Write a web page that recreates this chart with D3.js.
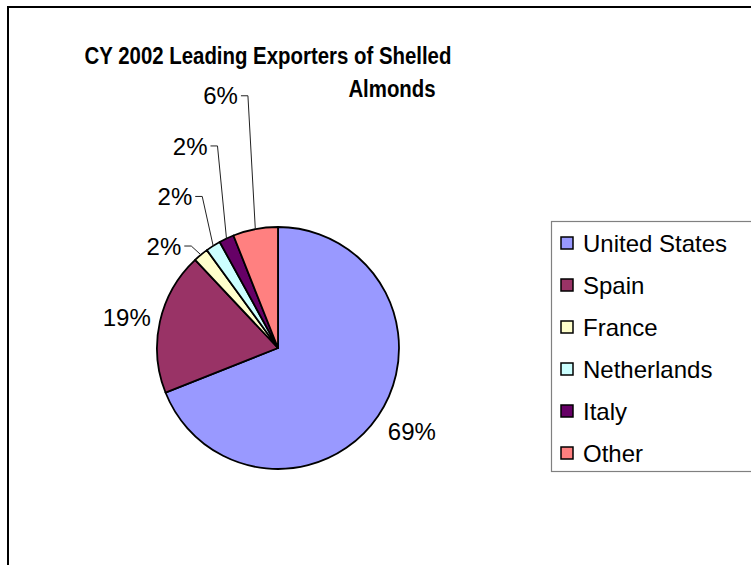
<!DOCTYPE html>
<html>
<head>
<meta charset="utf-8">
<script src="https://cdn.jsdelivr.net/npm/d3@7"></script>
<style>
  html, body { margin: 0; padding: 0; background: #fff; overflow: hidden; }
  svg { display: block; overflow: hidden; font-family: Arial, "Liberation Sans", sans-serif; }
</style>
</head>
<body>
<svg id="chart" width="751" height="565"></svg>
<script>
// Shares of shelled almond exports, calendar year 2002 (percent)
const countries = ["United States", "Spain", "France", "Netherlands", "Italy", "Other"];
const shares = [69, 19, 2, 2, 2, 6];
const colors = ["#9999FF", "#993366", "#FFFFCC", "#CCFFFF", "#660066", "#FF8080"];
const titleLines = ["CY 2002 Leading Exporters of Shelled", "Almonds"];

// Label offsets from their default spot; the thin slices are pulled out with leaders
const labelNudge = [[4, -5], [2, 4], [-14, 19], [-19, -19], [-21, -60], [-28, -98]];

const svg = d3.select("#chart");
const W = 751, H = 565;

// chart area frame (runs off the right and bottom edges)
svg.append("rect")
  .attr("x", 8).attr("y", 7)
  .attr("width", W + 200).attr("height", H + 200)
  .attr("fill", "#fff")
  .attr("stroke", "#000").attr("stroke-width", 2);

// title, set in a slightly condensed bold face
const titleX = [268, 392];
const title = svg.append("g");
titleLines.forEach((t, i) => {
  title.append("text")
    .attr("transform", `translate(${titleX[i]},${64 + i * 33}) scale(0.85,1)`)
    .attr("text-anchor", "middle")
    .attr("font-weight", "bold")
    .attr("font-size", 24)
    .attr("fill", "#000")
    .text(t);
});

// pie
const cx = 278, cy = 348, R = 121;
const g = svg.append("g").attr("transform", `translate(${cx},${cy})`);

const pie = d3.pie().sort(null).value(d => d).startAngle(0).endAngle(2 * Math.PI);
const arcs = pie(shares);
const arc = d3.arc().innerRadius(0).outerRadius(R);

g.selectAll("path.slice")
  .data(arcs)
  .join("path")
  .attr("class", "slice")
  .attr("d", arc)
  .attr("fill", (d, i) => colors[i])
  .attr("stroke", "#000")
  .attr("stroke-width", 1.8)
  .attr("stroke-linejoin", "round");

// percent labels
const labelR = 157;
const midAngle = d => (d.startAngle + d.endAngle) / 2;
const labels = g.selectAll("g.lab")
  .data(arcs)
  .join("g")
  .attr("class", "lab");

labels.each(function (d, i) {
  const a = midAngle(d);
  const lx = Math.sin(a) * labelR + labelNudge[i][0];
  const ly = -Math.cos(a) * labelR + labelNudge[i][1];
  const t = d3.select(this).append("text")
    .attr("x", lx)
    .attr("y", ly)
    .attr("dy", "0.36em")
    .attr("text-anchor", "middle")
    .attr("font-size", 24)
    .attr("fill", "#000")
    .text(d.data + "%");

  // leader line for the small slices
  if (d.data < 10) {
    const w = t.node().getComputedTextLength();
    const x0 = lx + w / 2 + 3;
    const px = Math.sin(a) * R, py = -Math.cos(a) * R;
    d3.select(this).append("path")
      .attr("d", d3.line()([[x0, ly], [x0 + 7, ly], [px, py]]))
      .attr("fill", "none")
      .attr("stroke", "#222")
      .attr("stroke-width", 1);
  }
});

// legend (its box continues past the right edge)
const legend = svg.append("g");
legend.append("rect")
  .attr("x", 551.5).attr("y", 221.5)
  .attr("width", 600).attr("height", 250)
  .attr("fill", "#fff")
  .attr("stroke", "#808080").attr("stroke-width", 1.2);

const rowY = d3.scalePoint().domain(countries).range([243, 453]);
const rows = legend.selectAll("g.row")
  .data(countries)
  .join("g")
  .attr("class", "row")
  .attr("transform", d => `translate(0,${rowY(d)})`);

rows.append("rect")
  .attr("x", 561).attr("y", -6)
  .attr("width", 12).attr("height", 12)
  .attr("fill", (d, i) => colors[i])
  .attr("stroke", "#000").attr("stroke-width", 1.5);

rows.append("text")
  .attr("x", 583)
  .attr("y", 0)
  .attr("dy", "0.36em")
  .attr("font-size", 24)
  .attr("fill", "#000")
  .text(d => d);
</script>
</body>
</html>
